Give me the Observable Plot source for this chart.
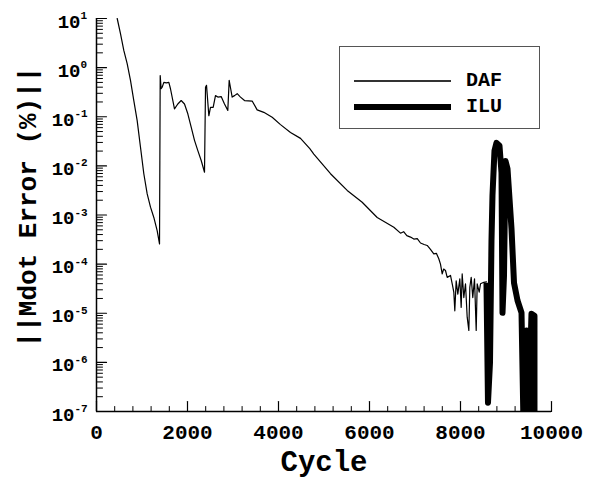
<!DOCTYPE html>
<html>
<head>
<meta charset="utf-8">
<script src="https://cdn.jsdelivr.net/npm/d3@7"></script>
<script src="https://cdn.jsdelivr.net/npm/@observablehq/plot@0.6"></script>
<style>
  html, body { margin: 0; padding: 0; background: #fff; }
  #wrap { position: relative; width: 594px; height: 489px; }
  #legend { position: absolute; left: 339px; top: 46px; width: 199px; height: 81px;
    border: 1.5px solid #555; background: #fff; font-family: "Liberation Mono", monospace; font-weight: bold; font-size: 20px; }
  .lg-row { position: absolute; left: 14px; height: 0; }
  .lg-line { position: absolute; left: 0; width: 97px; background: #000; }
  .lg-text { position: absolute; left: 112px; top: -12px; line-height: 24px; white-space: nowrap; }
</style>
</head>
<body>
<div id="wrap">
  <div id="chart"></div>
  <div id="legend"></div>
</div>
<script>
// ---- data (cycle, log10 of ||Mdot Error (%)||) ----
const dafCycle = [455, 527, 600, 674, 747, 820, 894, 967, 1040, 1114, 1187, 1260, 1333, 1385,
  1400, 1420, 1443, 1480, 1535, 1590, 1626, 1714, 1787, 1861, 1934, 2007, 2081, 2154, 2227, 2301, 2374,
  2396, 2418, 2469, 2505, 2564, 2615, 2667, 2740, 2813, 2886, 2916, 2945, 2982, 3033, 3092, 3165, 3253,
  3421, 3531, 3677, 3861, 4044, 4264, 4484, 4688, 4776, 5143, 5510, 5839, 6169, 6535, 6681, 6750, 6820,
  6901, 6974, 7050, 7121, 7200, 7268, 7340, 7413, 7470, 7523, 7560, 7598, 7630, 7670, 7708, 7780, 7818,
  7853, 7875, 7905, 7941, 7985, 8015, 8037, 8073, 8110, 8147, 8183, 8205, 8235, 8270, 8308, 8345, 8367,
  8411, 8440, 8512, 8571];
const dafLog10Err = [1.00, 0.69, 0.35, 0.08, -0.26, -0.67, -1.08, -1.62, -2.16, -2.57, -2.84, -3.05, -3.32, -3.59,
  -0.16, -0.43, -0.40, -0.30, -0.31, -0.30, -0.43, -0.84, -0.74, -0.67, -0.74, -0.94, -1.21, -1.48, -1.69, -1.89, -2.13,
  -0.40, -0.36, -0.98, -0.81, -0.81, -0.57, -0.60, -0.59, -0.74, -0.87, -0.26, -0.41, -0.60, -0.57, -0.53, -0.60, -0.67,
  -0.68, -0.86, -0.91, -1.01, -1.16, -1.32, -1.44, -1.65, -1.76, -2.16, -2.50, -2.74, -3.05, -3.25, -3.37, -3.34, -3.42,
  -3.45, -3.49, -3.48, -3.57, -3.60, -3.62, -3.70, -3.79, -3.78, -3.89, -4.00, -4.20, -4.10, -4.13, -4.27, -4.23, -4.40,
  -4.57, -4.95, -4.34, -4.61, -4.30, -4.88, -4.20, -4.68, -4.40, -5.08, -5.35, -4.47, -4.27, -4.68, -4.30, -5.35, -4.40,
  -4.57, -4.40, -4.37, -4.36];

const iluCycle = [8571, 8604, 8648, 8681, 8703, 8747, 8791, 8857, 8901, 8923, 8956, 8989, 9033, 9121, 9176, 9253, 9341,
  9385, 9451, 9495, 9560, 9626, 9626];
const iluLog10Err = [-4.38, -6.82, -6.01, -3.52, -2.60, -1.69, -1.53, -1.59, -2.14, -4.99, -4.24, -1.90, -2.06, -3.28, -4.38, -4.74, -4.99,
  -7.29, -5.35, -7.19, -5.01, -5.05, -7.29];

const seriesNames = ["DAF", "ILU"];
const xTicks = [0, 2000, 4000, 6000, 8000, 10000];
const xMinorTicks = [400, 800, 1200, 1600, 2400, 2800, 3200, 3600, 4400, 4800, 5200, 5600, 6400, 6800, 7200, 7600, 8400, 8800, 9200, 9600];
const yExponents = [1, 0, -1, -2, -3, -4, -5, -6, -7];
const yMinorMultipliers = [2, 3, 4, 5, 6, 7, 8, 9];

// ---- build tables ----
const daf = dafCycle.map((c, i) => ({cycle: c, err: 10 ** dafLog10Err[i]}));
const ilu = iluCycle.map((c, i) => ({cycle: c, err: 10 ** iluLog10Err[i]}));
const yMajor = yExponents.map(e => 10 ** e);
const yMinor = yExponents.filter(e => e < 1).flatMap(e => yMinorMultipliers.map(m => m * 10 ** e));
const posExp = yExponents.filter(e => e >= 0);
const negExp = yExponents.filter(e => e < 0);

const tickShape = { draw(ctx, l) { ctx.moveTo(0, 0); ctx.lineTo(0, -l); } };
const FONT = "Liberation Mono, Courier New, monospace";

const chart = Plot.plot({
  width: 594,
  height: 489,
  marginLeft: 96,
  marginRight: 43,
  marginTop: 18,
  marginBottom: 78,
  style: { fontFamily: FONT, background: "#fff", overflow: "visible" },
  x: { domain: [0, 10000], axis: null },
  y: { type: "log", domain: [1e-7, 10], axis: null },
  marks: [
    // data
    Plot.line(daf, { x: "cycle", y: "err", stroke: "#000", strokeWidth: 1.2, strokeLinejoin: "round", clip: true }),
    Plot.line(ilu, { x: "cycle", y: "err", stroke: "#000", strokeWidth: 6, strokeLinejoin: "round", strokeLinecap: "butt", clip: true }),
    // axis lines
    Plot.ruleX([0], { stroke: "#000", strokeWidth: 1.5 }),
    Plot.ruleY([1e-7], { stroke: "#000", strokeWidth: 1.5 }),
    // y ticks (inward)
    Plot.vector(yMajor, { y: d => d, frameAnchor: "left", rotate: 90, length: 10, anchor: "start", shape: tickShape, stroke: "#000", strokeWidth: 1.2 }),
    Plot.vector(yMinor, { y: d => d, frameAnchor: "left", rotate: 90, length: 6, anchor: "start", shape: tickShape, stroke: "#000", strokeWidth: 1 }),
    // x ticks (inward)
    Plot.vector(xTicks, { x: d => d, frameAnchor: "bottom", rotate: 0, length: 10, anchor: "start", shape: tickShape, stroke: "#000", strokeWidth: 1.2 }),
    Plot.vector(xMinorTicks, { x: d => d, frameAnchor: "bottom", rotate: 0, length: 5, anchor: "start", shape: tickShape, stroke: "#000", strokeWidth: 1 }),
    // x tick labels
    Plot.text(xTicks, { x: d => d, frameAnchor: "bottom", dy: 27, textAnchor: "middle", text: d => String(d), fontSize: 21, fontWeight: "bold", fill: "#000" }),
    // y tick labels: "10" + superscript exponent
    Plot.text(posExp, { y: e => 10 ** e, frameAnchor: "left", dx: -16, dy: 3, textAnchor: "end", text: () => "10", fontSize: 19, fontWeight: "bold", fill: "#000" }),
    Plot.text(posExp, { y: e => 10 ** e, frameAnchor: "left", dx: -16, dy: -3, textAnchor: "start", text: e => String(e), fontSize: 11, fontWeight: "bold", fill: "#000" }),
    Plot.text(negExp, { y: e => 10 ** e, frameAnchor: "left", dx: -22, dy: 3, textAnchor: "end", text: () => "10", fontSize: 19, fontWeight: "bold", fill: "#000" }),
    Plot.text(negExp, { y: e => 10 ** e, frameAnchor: "left", dx: -22, dy: -3, textAnchor: "start", text: e => String(e), fontSize: 11, fontWeight: "bold", fill: "#000" }),
    // axis titles
    Plot.text(["Cycle"], { frameAnchor: "bottom", dy: 59, textAnchor: "middle", text: d => d, fontSize: 29, fontWeight: "bold", fill: "#000" }),
    Plot.text(["||Mdot Error (%)||"], { frameAnchor: "left", dx: -69, dy: -8, rotate: -90, textAnchor: "middle", text: d => d, fontSize: 26, fontWeight: "bold", fill: "#000" })
  ]
});
document.getElementById("chart").appendChild(chart);

// legend
const legend = document.getElementById("legend");
const legendStyles = [{top: 34, h: 1.2}, {top: 60, h: 5.5}];
seriesNames.forEach((name, i) => {
  const row = document.createElement("div");
  row.className = "lg-row";
  row.style.top = legendStyles[i].top + "px";
  const line = document.createElement("div");
  line.className = "lg-line";
  line.style.height = legendStyles[i].h + "px";
  line.style.top = (-legendStyles[i].h / 2) + "px";
  if (i === 0) line.style.background = "#333";
  const txt = document.createElement("div");
  txt.className = "lg-text";
  txt.textContent = name;
  row.appendChild(line);
  row.appendChild(txt);
  legend.appendChild(row);
});
</script>
</body>
</html>
